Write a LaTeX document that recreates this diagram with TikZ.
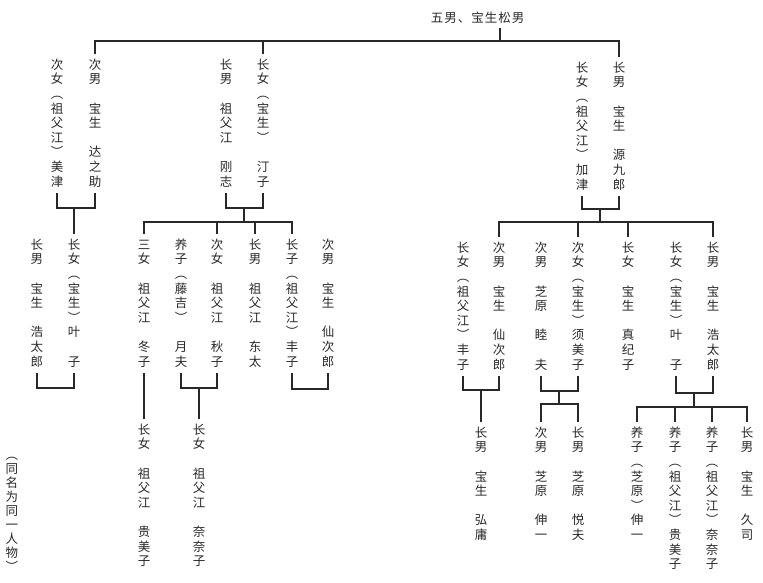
\documentclass[tikz,border=0pt]{standalone}
\usepackage{fontspec}
\newfontfamily\cjk{Noto Sans CJK SC}
\newdimen\VH \VH=14.6pt
\newcommand\VC[1]{\hbox to 14pt{\hss\rule[-.2\VH]{0pt}{\VH}#1\hss}}
\def\VSi#1{\ifx\relax#1\else\ifx.#1\VC{}\else\VC{#1}\fi\expandafter\VSi\fi}
\newcommand\VS[1]{\vbox{\offinterlineskip\VSi#1\relax}}
\definecolor{ink}{RGB}{40,40,40}
\tikzset{
  vcol/.style={anchor=north, inner sep=0pt, outer xsep=0pt, outer ysep=4pt,
    font=\cjk\fontsize{12.5}{14.6}\selectfont, text=ink},
  ttl/.style={inner sep=0pt, outer sep=4pt, font=\cjk\fontsize{12.5}{14}\selectfont\addfontfeature{LetterSpace=8}, text=ink},
  ln/.style={draw=ink, line width=1.1pt}
}
\begin{document}
\begin{tikzpicture}[x=1pt,y=-1pt]
\useasboundingbox (0,0) rectangle (763,582);
% title
\node[ttl] (T) at (477.5,18) {五男、宝生松男};
% row 1
\node[vcol] (L1a) at (57,53.7) {\VS{次女︵祖父江︶美津}};
\node[vcol] (L1b) at (95,53.7) {\VS{次男.宝生.达之助}};
\node[vcol] (L1c) at (226,53.7) {\VS{长男.祖父江.刚志}};
\node[vcol] (L1d) at (263,53.7) {\VS{长女︵宝生︶.汀子}};
\node[vcol] (R1a) at (582,56.7) {\VS{长女︵祖父江︶加津}};
\node[vcol] (R1b) at (619,56.7) {\VS{长男.宝生.源九郎}};
% row 2 left
\node[vcol] (L2a) at (37,233.7) {\VS{长男.宝生.浩太郎}};
\node[vcol] (L2b) at (74,233.7) {\VS{长女︵宝生︶叶.子}};
\node[vcol] (L2c) at (144,233.7) {\VS{三女.祖父江.冬子}};
\node[vcol] (L2d) at (181,233.7) {\VS{养子︵藤吉︶.月夫}};
\node[vcol] (L2e) at (217,233.7) {\VS{次女.祖父江.秋子}};
\node[vcol] (L2f) at (255,233.7) {\VS{长男.祖父江.东太}};
\node[vcol] (L2g) at (292,233.7) {\VS{长子︵祖父江︶丰子}};
\node[vcol] (L2h) at (328,233.7) {\VS{次男.宝生.仙次郎}};
% row 2 right
\node[vcol] (R2a) at (463,236.7) {\VS{长女︵祖父江︶丰子}};
\node[vcol] (R2b) at (499,236.7) {\VS{次男.宝生.仙次郎}};
\node[vcol] (R2c) at (541,236.7) {\VS{次男.芝原.睦.夫}};
\node[vcol] (R2d) at (578,236.7) {\VS{次女︵宝生︶须美子}};
\node[vcol] (R2e) at (628,236.7) {\VS{长女.宝生.真纪子}};
\node[vcol] (R2f) at (676,236.7) {\VS{长女︵宝生︶叶.子}};
\node[vcol] (R2g) at (713,236.7) {\VS{长男.宝生.浩太郎}};
% row 3
\node[vcol] (L3a) at (144,418.7) {\VS{长女.祖父江.贵美子}};
\node[vcol] (L3b) at (199,418.7) {\VS{长女.祖父江.奈奈子}};
\node[vcol] (R3a) at (481,421.7) {\VS{长男.宝生.弘庸}};
\node[vcol] (R3b) at (541,421.7) {\VS{次男.芝原.伸一}};
\node[vcol] (R3c) at (578,421.7) {\VS{长男.芝原.悦夫}};
\node[vcol] (R3d) at (637,421.7) {\VS{养子︵芝原︶伸一}};
\node[vcol] (R3e) at (675,421.7) {\VS{养子︵祖父江︶贵美子}};
\node[vcol] (R3f) at (712,421.7) {\VS{养子︵祖父江︶奈奈子}};
\node[vcol] (R3g) at (747,421.7) {\VS{长男.宝生.久司}};
% note
\node[vcol] (N) at (12,443.9) {\VH=14.1pt\VS{︵同名为同一人物︶}};
% connectors
\coordinate (top) at (500,41);
\draw[ln] (top |- T.south) -- (top);
\draw[ln] (L1b.north) |- (top) -| (R1b.north);
\draw[ln] (L1d.north) -- (L1d.north |- top);
% bracket 1
\coordinate (b1) at (74,208);
\draw[ln] (L1a.south) |- (b1) -| (L1b.south);
\draw[ln] (b1) -- (L2b.north);
% bracket 2
\coordinate (b2) at (244,208);
\coordinate (s2) at (244,222);
\draw[ln] (L1c.south) |- (b2) -| (L1d.south);
\draw[ln] (b2) -- (s2);
\draw[ln] (L2c.north) |- (s2) -| (L2g.north);
\draw[ln] (L2e.north) -- (L2e.north |- s2);
\draw[ln] (L2f.north) -- (L2f.north |- s2);
% bracket 3
\coordinate (b3) at (600,209);
\coordinate (s3) at (600,222);
\draw[ln] (R1a.south) |- (b3) -| (R1b.south);
\draw[ln] (b3) -- (s3);
\draw[ln] (R2b.north) |- (s3) -| (R2g.north);
\draw[ln] (R2d.north) -- (R2d.north |- s3);
\draw[ln] (R2e.north) -- (R2e.north |- s3);
% row 2 left brackets
\coordinate (b4) at (55.5,388);
\draw[ln] (L2a.south) |- (b4) -| (L2b.south);
\draw[ln] (L2c.south) -- (L3a.north);
\coordinate (b5) at (199,388);
\draw[ln] (L2d.south) |- (b5) -| (L2e.south);
\draw[ln] (b5) -- (L3b.north);
\coordinate (b6) at (310,389);
\draw[ln] (L2g.south) |- (b6) -| (L2h.south);
% row 2 right brackets
\coordinate (b7) at (481,390);
\draw[ln] (R2a.south) |- (b7) -| (R2b.south);
\draw[ln] (b7) -- (R3a.north);
\coordinate (b8) at (559,391);
\coordinate (s8) at (559,404);
\draw[ln] (R2c.south) |- (b8) -| (R2d.south);
\draw[ln] (b8) -- (s8);
\draw[ln] (R3b.north) |- (s8) -| (R3c.north);
\coordinate (b9) at (694,393);
\coordinate (s9) at (694,407);
\draw[ln] (R2f.south) |- (b9) -| (R2g.south);
\draw[ln] (b9) -- (s9);
\draw[ln] (R3d.north) |- (s9) -| (R3g.north);
\draw[ln] (R3e.north) -- (R3e.north |- s9);
\draw[ln] (R3f.north) -- (R3f.north |- s9);
\end{tikzpicture}
\end{document}
